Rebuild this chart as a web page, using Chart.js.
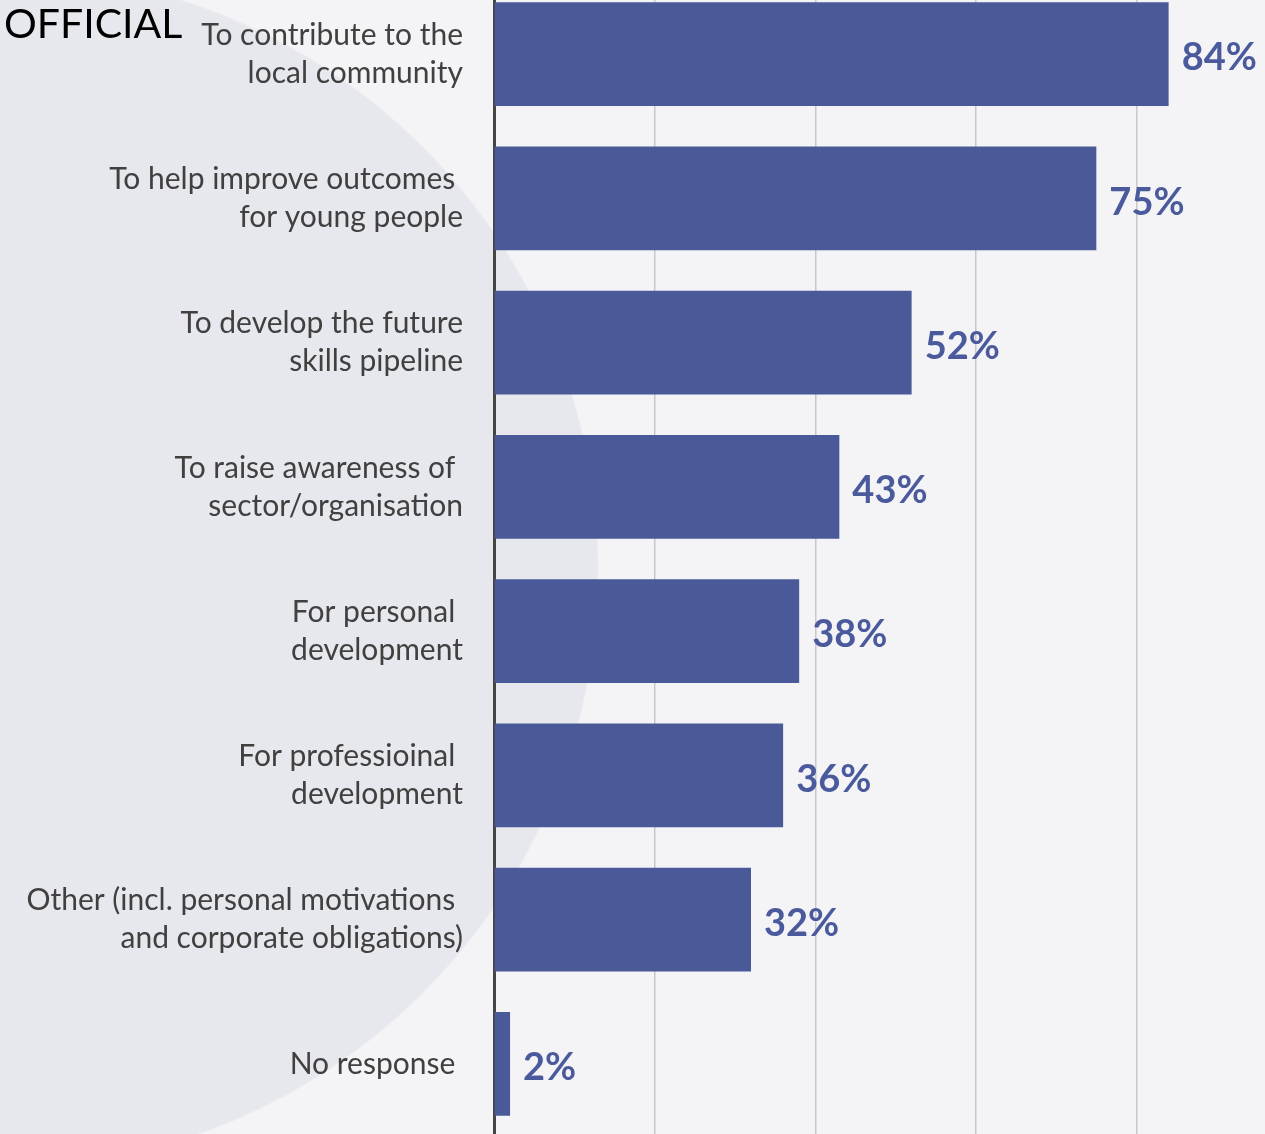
<!DOCTYPE html>
<html>
<head>
<meta charset="utf-8">
<script src="https://cdn.jsdelivr.net/npm/chart.js@4"></script>
<style>
  html, body {
    margin: 0;
    padding: 0;
    width: 1265px;
    height: 1134px;
    overflow: hidden;
    background: radial-gradient(circle 598px at 0px 570px, #e7e8ed 597px, #f4f4f7 599px);
    font-family: Lato, sans-serif;
  }
  #wrap {
    position: absolute;
    left: 0;
    top: -18px;
    width: 1265px;
    height: 1154px;
  }
  #stamp {
    position: absolute;
    left: 4px;
    top: -2px;
    font-family: Lato, sans-serif;
    font-size: 41px;
    color: #000;
    z-index: 2;
  }
</style>
</head>
<body>
<div id="stamp">OFFICIAL</div>
<div id="wrap"><canvas id="coolChart"></canvas></div>
<script>
// chart values
let categories = [
    ['To contribute to the', 'local community'],
    ['To help improve outcomes ', 'for young people'],
    ['To develop the future', 'skills pipeline'],
    ['To raise awareness of ', 'sector/organisation'],
    ['For personal ', 'development'],
    ['For professioinal ', 'development'],
    ['Other (incl. personal motivations ', 'and corporate obligations)'],
    'No response '
];
let values = [84, 75, 52, 43, 38, 36, 32, 2];
let gridTicks = [0, 20, 40, 60, 80];

function main() {
    buildChart();
}

const valueLabels = {
    id: 'valueLabels',
    afterDatasetsDraw(chart) {
        let ctx = chart.ctx;
        let meta = chart.getDatasetMeta(0);
        ctx.save();
        ctx.font = 'bold 38px Lato';
        ctx.fillStyle = '#4a5a9c';
        ctx.textAlign = 'left';
        ctx.textBaseline = 'middle';
        meta.data.forEach((bar, i) => {
            ctx.fillText(values[i] + '%', bar.x + 13, bar.y + 4);
        });
        ctx.restore();
    }
};

function buildChart() {
    var ctx = document.getElementById('coolChart').getContext('2d');
    var chart = new Chart(ctx, {
        type: 'bar',
        data: {
            labels: categories,
            datasets: [{
                data: values,
                backgroundColor: '#4a5a98',
                borderWidth: 0,
                barPercentage: 0.72,
                categoryPercentage: 1
            }]
        },
        options: {
            indexAxis: 'y',
            responsive: true,
            maintainAspectRatio: false,
            animation: false,
            layout: { padding: 0 },
            plugins: {
                legend: { display: false },
                tooltip: { enabled: false }
            },
            scales: {
                x: {
                    min: 0,
                    max: 96,
                    afterBuildTicks: scale => {
                        scale.ticks = gridTicks.map(v => ({ value: v }));
                    },
                    afterFit: scale => {
                        scale.height = 0;
                        scale.paddingLeft = 0;
                        scale.paddingRight = 0;
                    },
                    ticks: { display: false },
                    border: { display: false },
                    grid: {
                        drawTicks: false,
                        color: c => c.tick && c.tick.value === 0 ? 'rgba(0,0,0,0)' : '#c8c8cc',
                        lineWidth: 1.5
                    }
                },
                y: {
                    afterFit: scale => {
                        scale.width = 494;
                        scale.paddingTop = 0;
                        scale.paddingBottom = 0;
                    },
                    grid: { display: false, drawTicks: false },
                    border: { display: true, color: '#454545', width: 3 },
                    ticks: {
                        padding: 31,
                        color: '#404040',
                        font: { family: 'Lato', size: 30, lineHeight: 1.267 }
                    }
                }
            }
        },
        plugins: [valueLabels]
    });
}

main();
</script>
</body>
</html>
